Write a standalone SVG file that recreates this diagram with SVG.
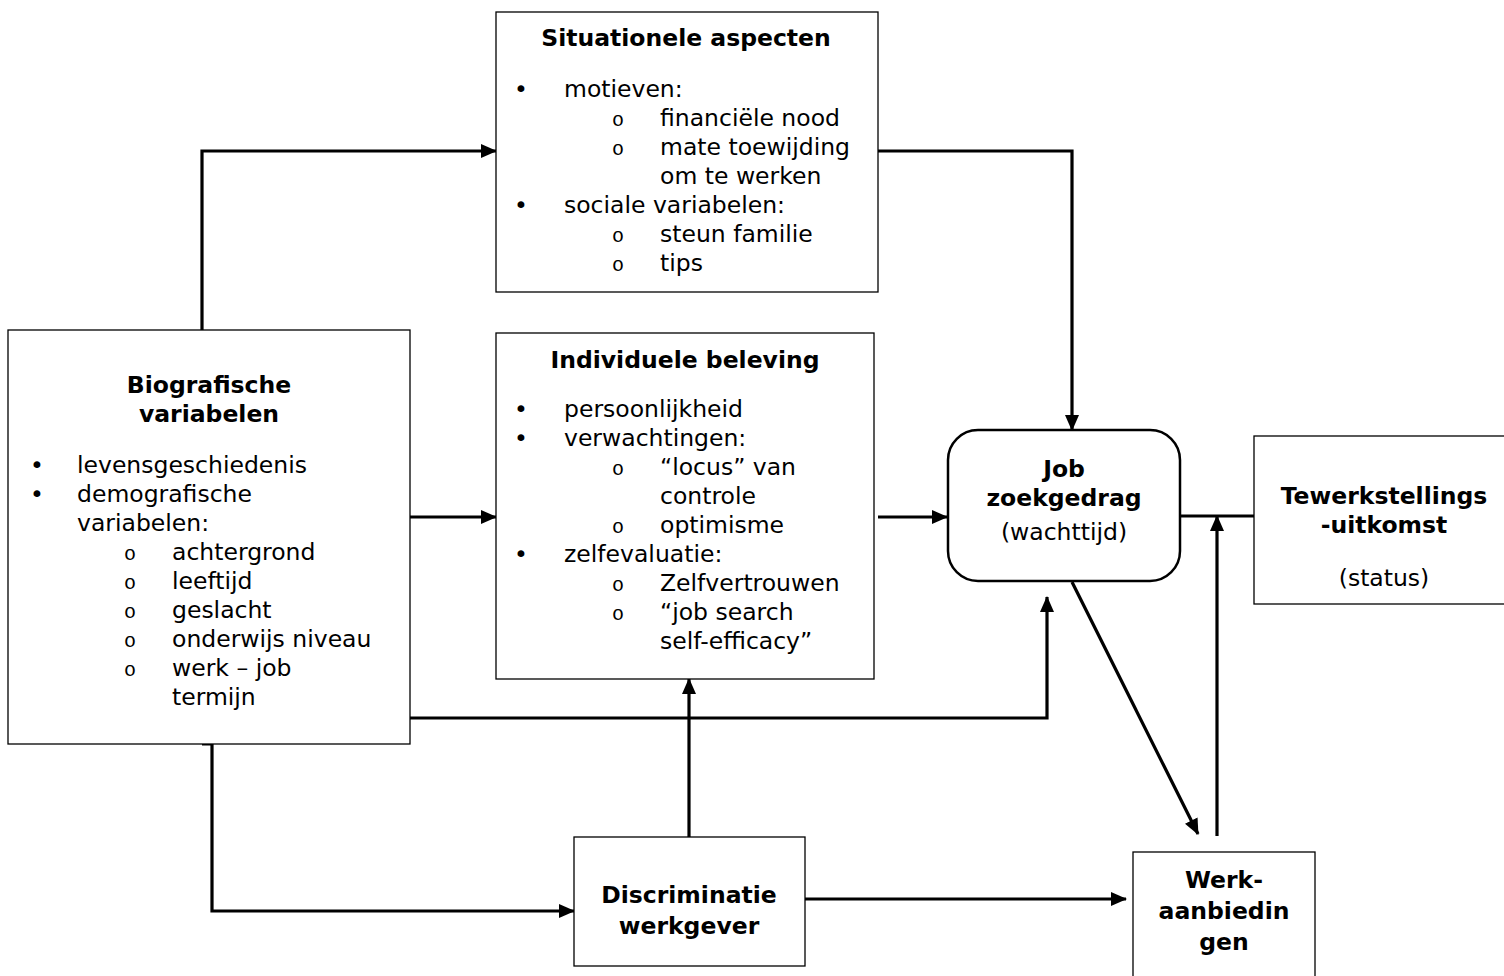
<svg xmlns="http://www.w3.org/2000/svg" width="1504" height="976" viewBox="0 0 1504 976">
<style>
.box{fill:#fff;stroke:#000;stroke-width:1.3}
.t{font-family:"DejaVu Sans",Verdana,sans-serif;font-size:23.5px;fill:#000}
.b{font-family:"DejaVu Sans",Verdana,sans-serif;font-size:23.5px;font-weight:bold;fill:#000}
.m{font-family:"Liberation Mono","Courier New",monospace;font-size:20px;fill:#000}
.c{text-anchor:middle}
.ln{fill:none;stroke:#000;stroke-width:3.2}
</style>
<defs>
<marker id="ah" markerUnits="userSpaceOnUse" markerWidth="16" markerHeight="14" refX="15" refY="7" orient="auto">
<path d="M0,0 L16,7 L0,14 Z" fill="#000"/>
</marker>
</defs>
<g id="connectors">
<path class="ln" d="M202,330 V151 H496" marker-end="url(#ah)"/>
<path class="ln" d="M878,151 H1072 V430" marker-end="url(#ah)"/>
<path class="ln" d="M410,517 H496" marker-end="url(#ah)"/>
<path class="ln" d="M878,517 H947" marker-end="url(#ah)"/>
<path class="ln" d="M410,718 H1047 V597" marker-end="url(#ah)"/>
<path class="ln" d="M202,744 H212 V911 H574" marker-end="url(#ah)"/>
<path class="ln" d="M689,837 V679" marker-end="url(#ah)"/>
<path class="ln" d="M805,899 H1126" marker-end="url(#ah)"/>
<path class="ln" d="M1072,582 L1198,834" marker-end="url(#ah)"/>
<path class="ln" d="M1217,836 V516" marker-end="url(#ah)"/>
<path class="ln" d="M1180,516 H1254"/>
</g>
<g id="situationele">
<rect class="box" x="496" y="12" width="382" height="280"/>
<text class="b c" x="686" y="46">Situationele aspecten</text>
<text class="t" x="514" y="97">•</text><text class="t" x="564" y="97">motieven:</text>
<text class="m" x="612" y="126">o</text><text class="t" x="660" y="126">financiële nood</text>
<text class="m" x="612" y="155">o</text><text class="t" x="660" y="155">mate toewijding</text>
<text class="t" x="660" y="184">om te werken</text>
<text class="t" x="514" y="213">•</text><text class="t" x="564" y="213">sociale variabelen:</text>
<text class="m" x="612" y="242">o</text><text class="t" x="660" y="242">steun familie</text>
<text class="m" x="612" y="271">o</text><text class="t" x="660" y="271">tips</text>
</g>
<g id="biografische">
<rect class="box" x="8" y="330" width="402" height="414"/>
<text class="b c" x="209" y="393">Biografische</text>
<text class="b c" x="209" y="422">variabelen</text>
<text class="t" x="30" y="473">•</text><text class="t" x="77" y="473">levensgeschiedenis</text>
<text class="t" x="30" y="502">•</text><text class="t" x="77" y="502">demografische</text>
<text class="t" x="77" y="531">variabelen:</text>
<text class="m" x="124" y="560">o</text><text class="t" x="172" y="560">achtergrond</text>
<text class="m" x="124" y="589">o</text><text class="t" x="172" y="589">leeftijd</text>
<text class="m" x="124" y="618">o</text><text class="t" x="172" y="618">geslacht</text>
<text class="m" x="124" y="647">o</text><text class="t" x="172" y="647">onderwijs niveau</text>
<text class="m" x="124" y="676">o</text><text class="t" x="172" y="676">werk – job</text>
<text class="t" x="172" y="705">termijn</text>
</g>
<g id="individuele">
<rect class="box" x="496" y="333" width="378" height="346"/>
<text class="b c" x="685" y="368">Individuele beleving</text>
<text class="t" x="514" y="417">•</text><text class="t" x="564" y="417">persoonlijkheid</text>
<text class="t" x="514" y="446">•</text><text class="t" x="564" y="446">verwachtingen:</text>
<text class="m" x="612" y="475">o</text><text class="t" x="660" y="475">“locus” van</text>
<text class="t" x="660" y="504">controle</text>
<text class="m" x="612" y="533">o</text><text class="t" x="660" y="533">optimisme</text>
<text class="t" x="514" y="562">•</text><text class="t" x="564" y="562">zelfevaluatie:</text>
<text class="m" x="612" y="591">o</text><text class="t" x="660" y="591">Zelfvertrouwen</text>
<text class="m" x="612" y="620">o</text><text class="t" x="660" y="620">“job search</text>
<text class="t" x="660" y="649">self-efficacy”</text>
</g>
<g id="job">
<rect x="948" y="430" width="232" height="151" rx="30" ry="30" fill="#fff" stroke="#000" stroke-width="2.5"/>
<text class="b c" x="1064" y="477">Job</text>
<text class="b c" x="1064" y="506">zoekgedrag</text>
<text class="t c" x="1064" y="540">(wachttijd)</text>
</g>
<g id="tewerkstelling">
<rect class="box" x="1254" y="436" width="252" height="168"/>
<text class="b c" x="1384" y="504">Tewerkstellings</text>
<text class="b c" x="1384" y="533">-uitkomst</text>
<text class="t c" x="1384" y="586">(status)</text>
</g>
<g id="discriminatie">
<rect class="box" x="574" y="837" width="231" height="129"/>
<text class="b c" x="689" y="903">Discriminatie</text>
<text class="b c" x="689" y="934">werkgever</text>
</g>
<g id="werkaanbiedingen">
<rect class="box" x="1133" y="852" width="182" height="130"/>
<text class="b c" x="1224" y="888">Werk-</text>
<text class="b c" x="1224" y="919">aanbiedin</text>
<text class="b c" x="1224" y="950">gen</text>
</g>
</svg>
